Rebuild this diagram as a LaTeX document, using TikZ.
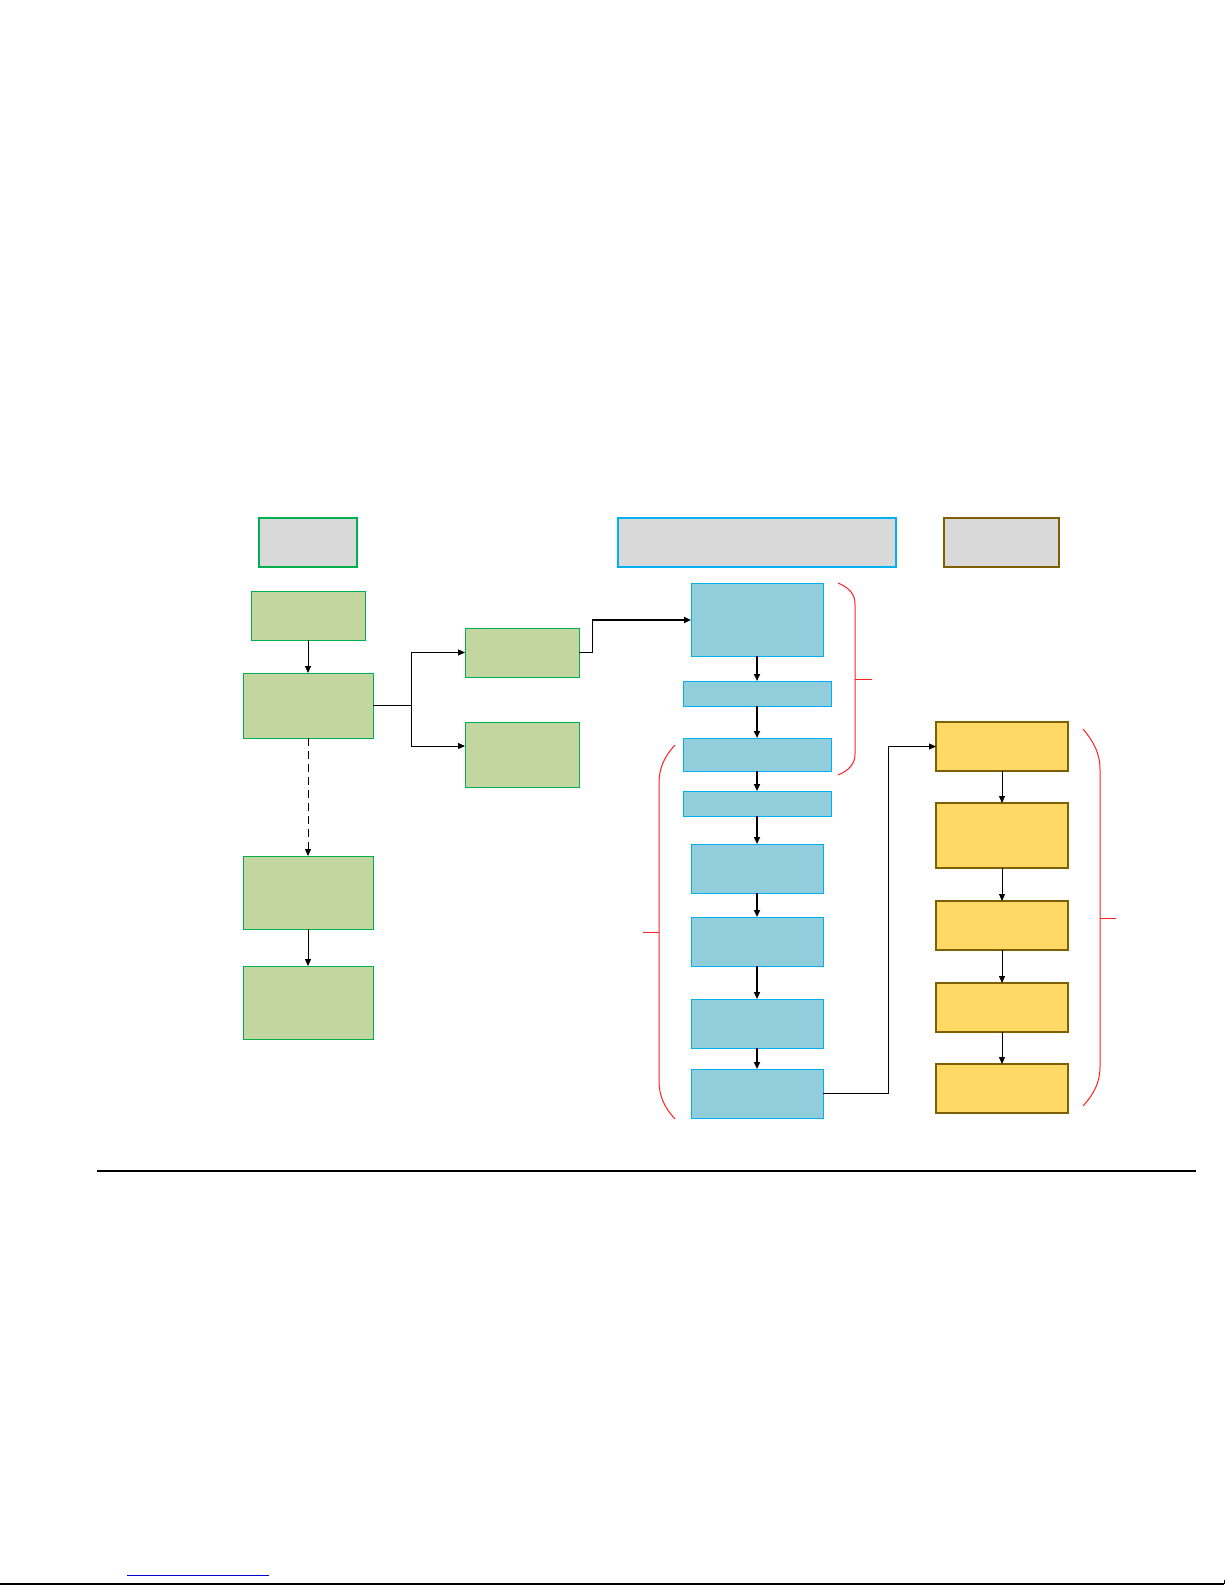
\documentclass[tikz,border=0pt]{standalone}
\usetikzlibrary{arrows.meta,calc}
\definecolor{gfill}{HTML}{C4D6A0}
\definecolor{gline}{HTML}{00B050}
\definecolor{hfill}{HTML}{D9D9D9}
\definecolor{bfill}{HTML}{92CDDC}
\definecolor{bline}{HTML}{00B0F0}
\definecolor{yfill}{HTML}{FFD966}
\definecolor{yline}{HTML}{7F6000}
\definecolor{bracered}{HTML}{FF2020}
\definecolor{linkblue}{HTML}{0000CC}
\tikzset{
  box/.style={rectangle, inner sep=0pt, outer sep=0pt, anchor=north west, line width=1pt},
  gbox/.style={box, draw=gline, fill=gfill},
  bbox/.style={box, draw=bline, fill=bfill},
  ybox/.style={box, draw=yline, fill=yfill, line width=1.2pt},
  hbox/.style={box, fill=hfill, line width=2pt},
  arr/.style={-{Triangle[length=7pt,width=6pt]}, line width=1pt, black},
  tarr/.style={-{Triangle[length=7pt,width=6pt]}, line width=1.8pt, black},
  brace/.style={draw=bracered, line width=1pt},
}
\begin{document}
\begin{tikzpicture}[x=1pt,y=-1pt]
\useasboundingbox (0,0) rectangle (1225,1585);
% headers
\node[hbox, draw=gline, minimum width=98pt, minimum height=49pt] (H1) at (259,518) {};
\node[hbox, draw=bline, minimum width=278pt, minimum height=49pt] (H2) at (618,518) {};
\node[hbox, draw=yline, minimum width=115pt, minimum height=49pt] (H3) at (944,518) {};
% green column
\node[gbox, minimum width=114pt, minimum height=49pt] (G1) at (251,591) {};
\node[gbox, minimum width=130pt, minimum height=65pt] (G2) at (243,673) {};
\node[gbox, minimum width=114pt, minimum height=49pt] (G3) at (465,628) {};
\node[gbox, minimum width=114pt, minimum height=65pt] (G4) at (465,722) {};
\node[gbox, minimum width=130pt, minimum height=73pt] (G5) at (243,856) {};
\node[gbox, minimum width=130pt, minimum height=73pt] (G6) at (243,966) {};
% blue column
\node[bbox, minimum width=132pt, minimum height=73pt] (B1) at (691,583) {};
\node[bbox, minimum width=148pt, minimum height=25pt] (B2) at (683,681) {};
\node[bbox, minimum width=148pt, minimum height=33pt] (B3) at (683,738) {};
\node[bbox, minimum width=148pt, minimum height=25pt] (B4) at (683,791) {};
\node[bbox, minimum width=132pt, minimum height=49pt] (B5) at (691,844) {};
\node[bbox, minimum width=132pt, minimum height=49pt] (B6) at (691,917) {};
\node[bbox, minimum width=132pt, minimum height=49pt] (B7) at (691,999) {};
\node[bbox, minimum width=132pt, minimum height=49pt] (B8) at (691,1069) {};
% yellow column
\node[ybox, minimum width=132pt, minimum height=49pt] (Y1) at (936,722) {};
\node[ybox, minimum width=132pt, minimum height=65pt] (Y2) at (936,803) {};
\node[ybox, minimum width=132pt, minimum height=49pt] (Y3) at (936,901) {};
\node[ybox, minimum width=132pt, minimum height=49pt] (Y4) at (936,983) {};
\node[ybox, minimum width=132pt, minimum height=49pt] (Y5) at (936,1064) {};
% green connectors
\draw[arr] (G1.south) -- (G2.north);
\coordinate (J) at (411,705.5);
\draw[line width=1.8pt] (G2.east) -- (J);
\draw[arr] (J) |- (G3.west);
\coordinate (G4in) at ($(G4.west)+(0,-8.5)$);
\draw[arr] (J) |- (G4in);
\draw[arr, dashed, dash pattern=on 8pt off 5pt] (G2.south) -- (G5.north);
\draw[arr] (G5.south) -- (G6.north);
\coordinate (K) at (592,620);
\draw[line width=1pt] (G3.east) -| (K);
\draw[tarr] (K) -- (K -| B1.west);
% blue connectors
\draw[tarr] (B1.south) -- (B2.north);
\draw[tarr] (B2.south) -- (B3.north);
\draw[tarr] (B3.south) -- (B4.north);
\draw[tarr] (B4.south) -- (B5.north);
\draw[tarr] (B5.south) -- (B6.north);
\draw[tarr] (B6.south) -- (B7.north);
\draw[tarr] (B7.south) -- (B8.north);
\coordinate (L) at (888,1093.5);
\draw[line width=1pt] (B8.east) -- (L);
\draw[arr] (L) |- (Y1.west);
% yellow connectors
\draw[arr] (Y1.south) -- (Y2.north);
\draw[arr] (Y2.south) -- (Y3.north);
\draw[arr] (Y3.south) -- (Y4.north);
\draw[arr] (Y4.south) -- (Y5.north);
% braces
\draw[brace] (838,583) .. controls (850,588) and (855,595) .. (855,604) -- (855,754) .. controls (855,763) and (850,770) .. (838,775);
\draw[brace] (855,679) -- (872,679);
\draw[brace] (675,745) .. controls (664,757) and (659,768) .. (659,784) -- (659,1080) .. controls (659,1096) and (664,1107) .. (675,1119);
\draw[brace] (643,932) -- (659,932);
\draw[brace] (1083,729) .. controls (1094,742) and (1100,754) .. (1100,769) -- (1100,1067) .. controls (1100,1082) and (1094,1094) .. (1083,1106);
\draw[brace] (1100,918) -- (1116,918);
% rules
\draw[line width=2pt] (97,1171) -- (1196,1171);
\draw[linkblue, line width=1pt] (127,1575) -- (269,1575);
\draw[line width=2pt] (0,1584) -- (1224,1584);
\draw[line width=1pt] (1224,1584) -- (1224,1580);
\end{tikzpicture}
\end{document}
